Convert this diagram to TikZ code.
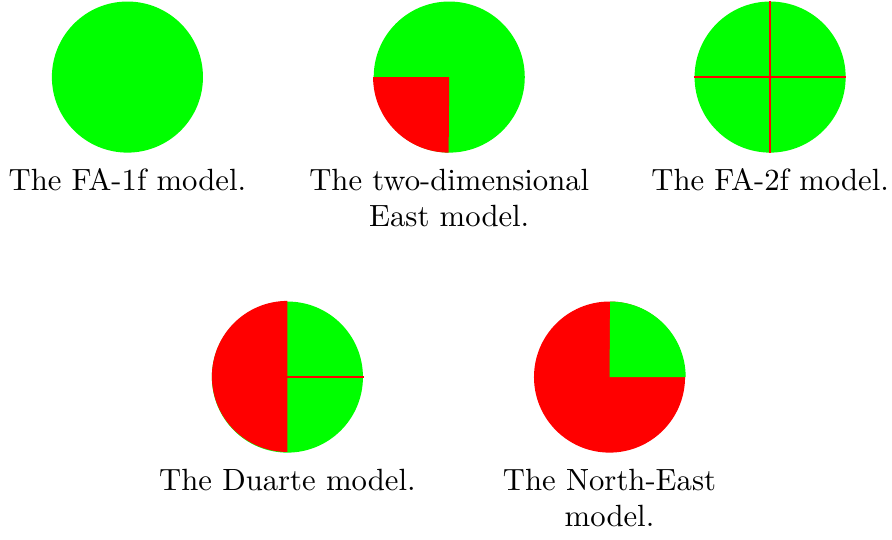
\documentclass[tikz,border=0pt]{standalone}
\usepackage{tikz}
\usetikzlibrary{positioning}

\definecolor{upgreen}{RGB}{0,255,0}
\definecolor{downred}{RGB}{255,0,0}

\begin{document}
\begin{tikzpicture}[x=1pt,y=1pt,
    site/.style={circle,inner sep=0pt,minimum size=49.2pt},
    caption/.style={text width=96pt,align=center,anchor=base,inner sep=0pt,
      execute at begin node={\exhyphenpenalty=10000}},
    divider/.style={downred,line width=0.7pt}]
    \useasboundingbox (0,0) rectangle (290.5,-175.6);

    % top row
    \node[site,fill=upgreen] (fa1) at (41.5,-25.1) {};
    \node[site,fill=upgreen] (east) at (146.3,-25.1) {};
    \fill[downred] (east.center) -- (east.west) arc[start angle=180,end angle=270,radius=24.6pt] -- cycle;
    \node[site,fill=upgreen] (fa2) at (250.8,-25.1) {};
    \draw[divider] (fa2.west) -- (fa2.east);
    \draw[divider] (fa2.north) -- (fa2.south);

    % bottom row
    \node[site,fill=upgreen] (duarte) at (93.6,-122.8) {};
    \fill[downred] (duarte.north) arc[start angle=90,end angle=270,radius=24.6pt] -- cycle;
    \draw[divider] (duarte.center) -- (duarte.east);
    \node[site,fill=downred] (ne) at (198.5,-122.8) {};
    \fill[upgreen] (ne.center) -- (ne.east) arc[start angle=0,end angle=90,radius=24.6pt] -- cycle;

    \node[below=12pt of fa1,caption] (fa1cap) {The FA-1f model.};
    \node[below=12pt of east,caption] (eastcap) {The two-dimensional East model.};
    \node[below=12pt of fa2,caption] (fa2cap) {The FA-2f model.};
    \node[below=12pt of duarte,caption] (duartecap) {The Duarte model.};
    \node[below=12pt of ne,caption] (necap) {The North-East model.};
\end{tikzpicture}
\end{document}
